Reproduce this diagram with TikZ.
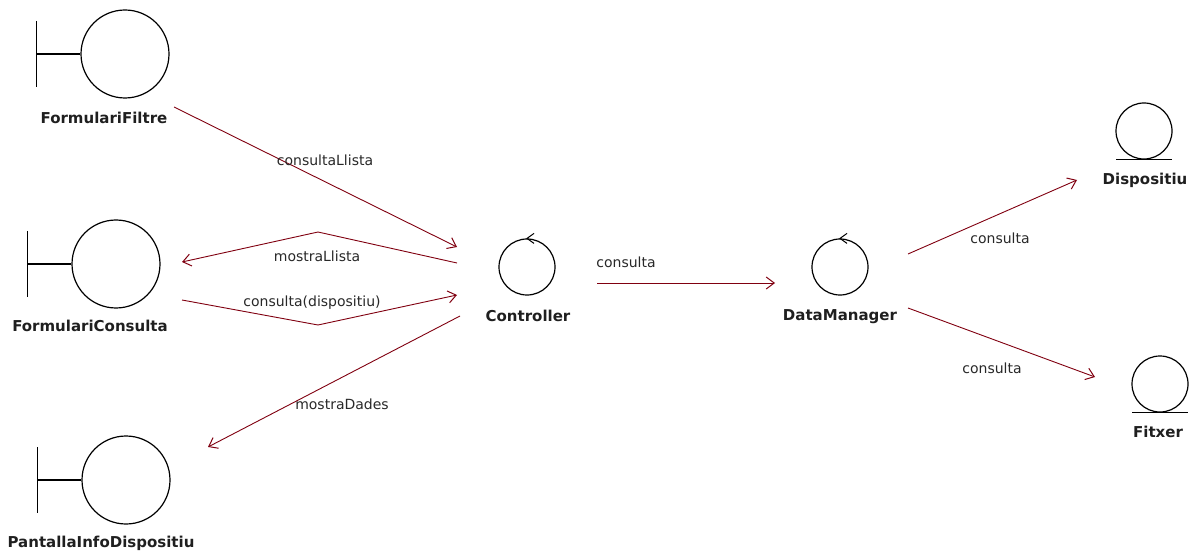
\documentclass[tikz,border=0pt]{standalone}
\usepackage{fontspec}
\setmainfont{DejaVu Sans}
\usetikzlibrary{arrows.meta,calc}
\definecolor{msgred}{RGB}{128,0,16}
\definecolor{labgray}{RGB}{40,40,40}
\tikzset{
  icon/.style={circle,draw=black,line width=1.2pt,inner sep=0pt},
  boundary/.style={icon,minimum size=88pt},
  smallicon/.style={icon,minimum size=56pt},
  objname/.style={font=\fontsize{15}{18}\selectfont\bfseries,text=black!88,inner sep=0pt},
  msg/.style={draw=msgred,line width=0.9pt,-{Straight Barb[length=8pt,width=12pt,line width=1pt]}},
  msglabel/.style={font=\fontsize{14}{17}\selectfont,text=labgray,inner sep=0pt},
}
\begin{document}
\begin{tikzpicture}[x=1pt,y=-1pt]
\useasboundingbox (0,0) rectangle (1191,553);

% boundary objects: circle with a T-bar on the left
\node[boundary] (ff) at (125,54) {};
\node[boundary] (fc) at (116,264) {};
\node[boundary] (pid) at (126,480) {};
\foreach \b in {ff,fc,pid}{
  \draw[line width=1.2pt] (\b.west) -- ++(-44,0);
  \draw[line width=1.2pt] ($(\b.west)+(-44,-33)$) -- ++(0,66);
}
\node[objname] (ffl) at (104,118) {FormulariFiltre};
\node[objname] (fcl) at (90,326) {FormulariConsulta};
\node[objname] (pidl) at (101,543) {PantallaInfoDispositiu};

% control objects: circle with a small arrow mark on top
\node[smallicon] (ctrl) at (527,267) {};
\node[smallicon] (dm) at (840,267) {};
\foreach \c in {ctrl,dm}{
  \draw[line width=1pt] ($(\c.north)+(7,-5)$) -- (\c.north) -- ($(\c.north)+(7,5)$);
}
\node[objname] (ctrll) at (528,316) {Controller};
\node[objname] (dml) at (840,317) {DataManager};

% entity objects: circle resting on a line
\node[smallicon] (disp) at (1144,131) {};
\node[smallicon] (fit) at (1160,384) {};
\foreach \e in {disp,fit}{
  \draw[line width=1.2pt] ($(\e.south)+(-28,0)$) -- ($(\e.south)+(28,0)$);
}
\node[objname] (displ) at (1145,180) {Dispositiu};
\node[objname] (fitl) at (1158,432) {Fitxer};

% connector end points
\coordinate (a1) at ($(ff)+(49,53)$);
\coordinate (a2) at ($(ctrl)+(-70,-20)$);
\coordinate (b1) at ($(ctrl)+(-70,-4)$);
\coordinate (b2) at ($(fc)+(66,-2)$);
\coordinate (c1) at ($(fc)+(66,36)$);
\coordinate (c2) at ($(ctrl)+(-70,28)$);
\coordinate (d1) at ($(ctrl)+(-67,49)$);
\coordinate (d2) at ($(pid)+(82,-33)$);
\coordinate (e1) at ($(ctrl)+(70,16)$);
\coordinate (e2) at ($(dm)+(-65,16)$);
\coordinate (f1) at ($(dm)+(68,-13)$);
\coordinate (f2) at ($(disp)+(-67,49)$);
\coordinate (g1) at ($(dm)+(68,41)$);
\coordinate (g2) at ($(fit)+(-65,-7)$);

% messages
\draw[msg] (a1) -- (a2);
\node[msglabel] at (325,160) {consultaLlista};
\draw[msg] (b1) -- (318,232) -- (b2);
\node[msglabel] at (317,256) {mostraLlista};
\draw[msg] (c1) -- (318,325) -- (c2);
\node[msglabel] at (312,303) {consulta(dispositiu)};
\draw[msg] (d1) -- (d2);
\node[msglabel] at (342,404) {mostraDades};
\draw[msg] (e1) -- (e2);
\node[msglabel] at (626,262) {consulta};
\draw[msg] (f1) -- (f2);
\node[msglabel] at (1000,238) {consulta};
\draw[msg] (g1) -- (g2);
\node[msglabel] at (992,368) {consulta};
\end{tikzpicture}
\end{document}
